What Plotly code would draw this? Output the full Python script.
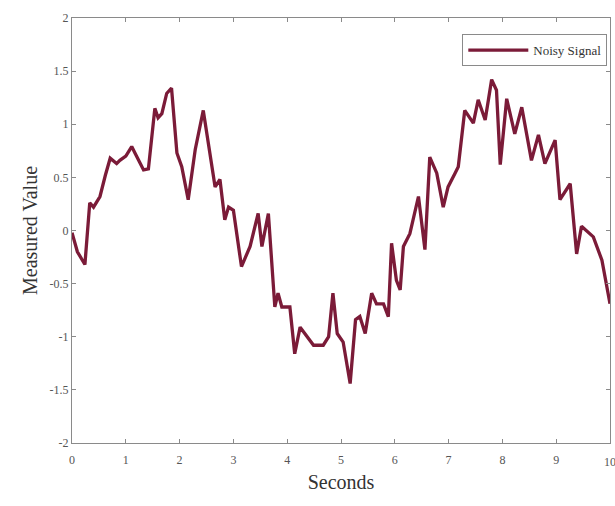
import plotly.graph_objects as go

seconds = [0.0, 0.1, 0.24, 0.33, 0.40, 0.52, 0.62, 0.71, 0.83, 0.89, 1.0, 1.11, 1.17, 1.33, 1.42,
           1.54, 1.60, 1.67, 1.76, 1.85, 1.95, 2.04, 2.16, 2.29, 2.44, 2.53, 2.66, 2.75, 2.84,
           2.91, 3.00, 3.15, 3.31, 3.46, 3.53, 3.65, 3.77, 3.83, 3.90, 4.05, 4.14, 4.24, 4.49,
           4.67, 4.77, 4.85, 4.93, 5.04, 5.17, 5.27, 5.35, 5.45, 5.57, 5.66, 5.79, 5.88, 5.94,
           6.03, 6.10, 6.16, 6.28, 6.44, 6.56, 6.65, 6.78, 6.90, 6.99, 7.12, 7.18, 7.30, 7.46,
           7.55, 7.68, 7.80, 7.89, 7.96, 8.08, 8.23, 8.36, 8.54, 8.67, 8.79, 8.98, 9.07, 9.26,
           9.38, 9.47, 9.69, 9.85, 10.0]
measured = [-0.02, -0.2, -0.32, 0.26, 0.22, 0.32, 0.52, 0.68, 0.63, 0.66, 0.70, 0.79, 0.73, 0.57, 0.58,
            1.15, 1.06, 1.10, 1.29, 1.34, 0.73, 0.60, 0.29, 0.76, 1.13, 0.82, 0.41, 0.48, 0.10,
            0.22, 0.19, -0.34, -0.15, 0.16, -0.15, 0.16, -0.72, -0.59, -0.72, -0.72, -1.16, -0.91, -1.08,
            -1.08, -1.0, -0.59, -0.97, -1.05, -1.44, -0.84, -0.81, -0.97, -0.59, -0.69, -0.69, -0.81, -0.12,
            -0.47, -0.56, -0.15, -0.03, 0.32, -0.18, 0.69, 0.54, 0.22, 0.41, 0.54, 0.60, 1.13, 1.01,
            1.23, 1.04, 1.42, 1.32, 0.62, 1.24, 0.91, 1.16, 0.66, 0.90, 0.63, 0.85, 0.29, 0.44,
            -0.22, 0.04, -0.06, -0.28, -0.69]

x_ticks = [0, 1, 2, 3, 4, 5, 6, 7, 8, 9, 10]
x_tick_labels = ["0", "1", "2", "3", "4", "5", "6", "7", "8", "9", "10"]
y_ticks = [-2, -1.5, -1, -0.5, 0, 0.5, 1, 1.5, 2]
y_tick_labels = ["-2", "-1.5", "-1", "-0.5", "0", "0.5", "1", "1.5", "2"]

serif = "Liberation Serif, Times New Roman, serif"
tick_font = dict(family=serif, size=12, color="#555555")

fig = go.Figure()
fig.add_trace(go.Scatter(
    x=seconds, y=measured, mode="lines", name="Noisy Signal",
    line=dict(color="#7B1B38", width=3.3),
))

axis_common = dict(
    showline=True, linecolor="#8a8a8a", linewidth=1, mirror="ticks",
    ticks="inside", ticklen=4, tickcolor="#8a8a8a",
    showgrid=False, zeroline=False,
    tickfont=tick_font,
)

fig.update_layout(
    width=615, height=506,
    margin=dict(l=72, r=5, t=18, b=63),
    paper_bgcolor="white", plot_bgcolor="white",
    font=dict(family=serif),
    showlegend=True,
    legend=dict(
        x=0.995, y=0.962, xanchor="right", yanchor="top",
        bgcolor="white", bordercolor="#8a8a8a", borderwidth=1,
        font=dict(family=serif, size=13, color="#333333"),
        itemwidth=60, tracegroupgap=0,
    ),
    xaxis=dict(range=[0, 10], tickvals=x_ticks[:-1], ticktext=x_tick_labels[:-1],
               ticklabelstandoff=6,
               title=dict(text="Seconds", font=dict(family=serif, size=20, color="#333333"), standoff=8),
               **axis_common),
    yaxis=dict(range=[-2, 2], tickvals=y_ticks, ticktext=y_tick_labels,
               title=dict(text="Measured Value", font=dict(family=serif, size=20, color="#333333"), standoff=6),
               **axis_common),
)

# last x tick label sits on the right edge of the page, as in the reference
fig.add_annotation(x=x_ticks[-1], xref="x", y=0, yref="paper", yshift=-10,
                   text=x_tick_labels[-1], showarrow=False, xanchor="center", yanchor="top",
                   font=tick_font)

fig.write_html("out.html")
